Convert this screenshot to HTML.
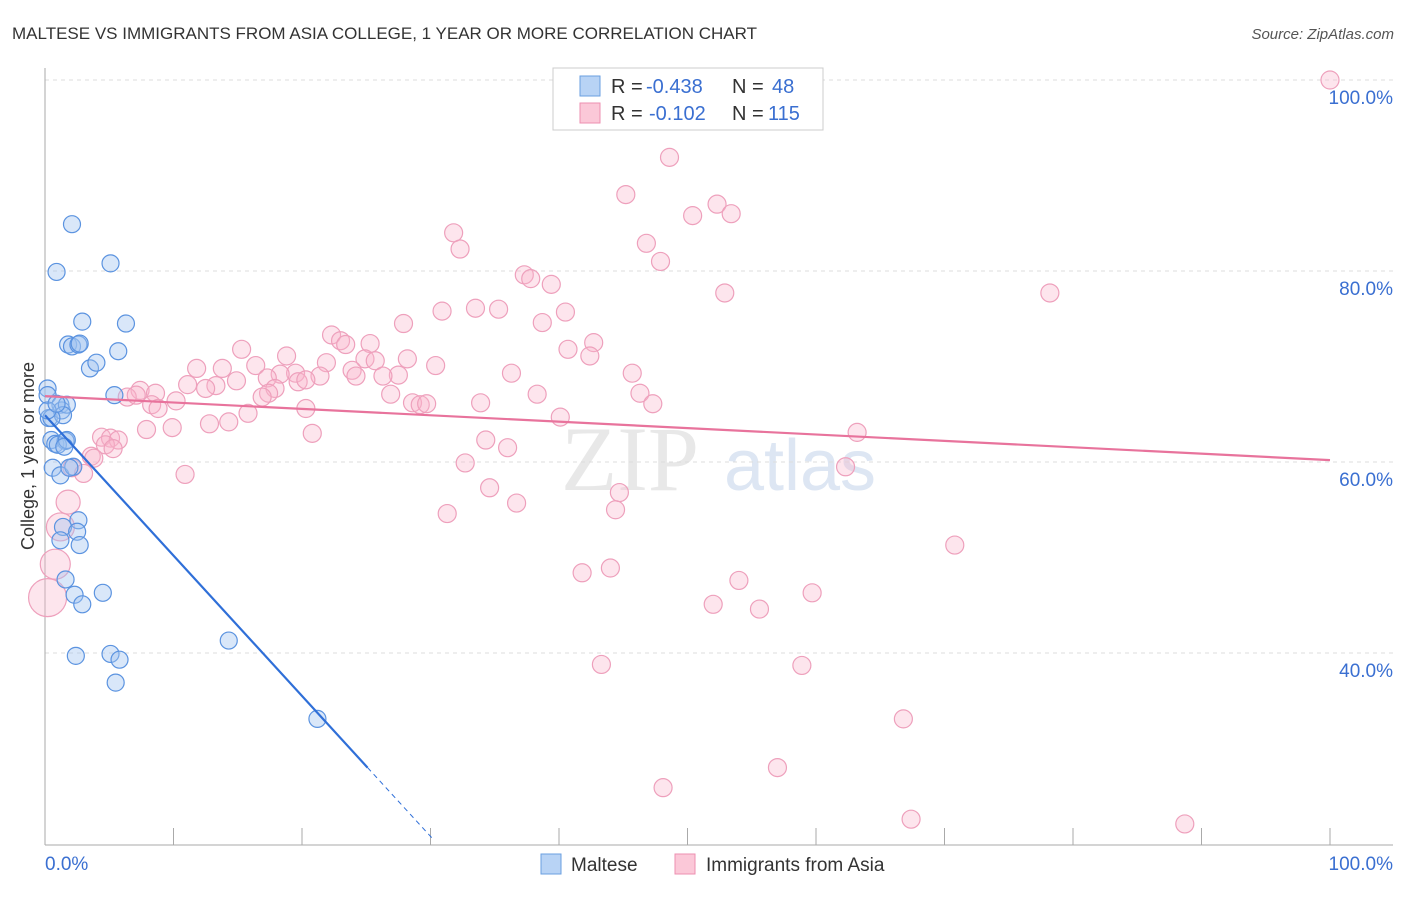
<!DOCTYPE html>
<html><head><meta charset="utf-8"><style>
body{margin:0;background:#fff;font-family:"Liberation Sans",sans-serif}
</style></head><body>
<svg width="1406" height="892" xmlns="http://www.w3.org/2000/svg" id="chart" style="font-family:'Liberation Sans',sans-serif">
<text x="12" y="39" font-size="17" fill="#333">MALTESE VS IMMIGRANTS FROM ASIA COLLEGE, 1 YEAR OR MORE CORRELATION CHART</text>
<text x="1394" y="39" font-size="15" fill="#555" text-anchor="end" font-style="italic">Source: ZipAtlas.com</text>
<g><text x="630" y="490" font-size="92" fill="#e8e8e8" text-anchor="middle" font-family="Liberation Serif">ZIP</text><text x="800" y="490" font-size="72" fill="#dde6f3" text-anchor="middle">atlas</text></g>
<g id="grid"></g><g id="pts"></g><g id="lines"></g>
<text transform="translate(34,456) rotate(-90)" font-size="18" fill="#333" text-anchor="middle">College, 1 year or more</text>
<g>
<rect x="553" y="68" width="270" height="62" fill="#fff" stroke="#ccc"/>
<rect x="580" y="76" width="20" height="20" fill="#b8d3f5" stroke="#6a9fe0"/>
<rect x="580" y="103" width="20" height="20" fill="#fbc8d8" stroke="#ee8fb0"/>
<text x="611" y="93" font-size="20" fill="#333">R =</text>
<text x="646" y="93" font-size="20" fill="#3a6fd1">-0.438</text>
<text x="732" y="93" font-size="20" fill="#333">N =</text>
<text x="772" y="93" font-size="20" fill="#3a6fd1">48</text>
<text x="611" y="120" font-size="20" fill="#333">R =</text>
<text x="649" y="120" font-size="20" fill="#3a6fd1">-0.102</text>
<text x="732" y="120" font-size="20" fill="#333">N =</text>
<text x="768" y="120" font-size="20" fill="#3a6fd1">115</text>
</g>
<g>
<rect x="541" y="854" width="20" height="20" fill="#b8d3f5" stroke="#6a9fe0"/>
<text x="571" y="871" font-size="19" fill="#333">Maltese</text>
<rect x="675" y="854" width="20" height="20" fill="#fbc8d8" stroke="#ee8fb0"/>
<text x="706" y="871" font-size="19" fill="#333">Immigrants from Asia</text>
</g>
</svg>
<script>
const yTicks=[100,80,60,40];
const yTickLabels=["100.0%","80.0%","60.0%","40.0%"];
const xTickLabels=["0.0%","100.0%"];
const blueX=[0.2,0.2,0.3,0.5,0.8,0.6,0.9,1.2,1.3,1.7,1.6,2.1,1.8,2.1,2.6,2.9,2.7,3.5,4.0,5.1,5.7,6.3,5.4,1.4,1.2,2.2,1.4,2.6,2.5,1.2,2.7,1.6,2.3,2.9,4.5,2.4,5.1,5.8,5.5,14.3,21.2,0.5,1.0,1.7,0.2,1.9,0.9,1.5];
const blueY=[67.7,67.0,64.6,62.3,61.9,59.4,79.9,66.0,65.4,66.0,62.2,84.9,72.3,72.1,72.3,74.7,72.4,69.8,70.4,80.8,71.6,74.5,67.0,64.9,58.6,59.5,53.2,53.9,52.7,51.8,51.3,47.7,46.1,45.1,46.3,39.7,39.9,39.3,36.9,41.3,33.1,64.6,61.8,62.3,65.4,59.4,66.1,61.6];
const pinkX=[100,48.6,45.2,52.3,53.4,50.4,31.8,32.3,46.8,47.9,37.3,37.8,39.4,52.9,78.2,30.9,33.5,35.3,40.5,27.9,38.7,22.3,23.0,23.4,25.3,42.7,40.7,15.3,42.4,18.8,28.2,24.9,25.7,11.8,13.8,16.4,21.9,23.9,30.4,19.5,18.3,21.4,36.3,45.7,27.5,26.3,24.2,17.3,19.7,11.1,13.3,12.5,14.9,17.9,20.3,7.4,6.4,7.1,8.6,10.2,8.3,8.8,17.4,16.9,26.9,38.3,46.3,47.3,28.6,29.2,29.7,33.9,20.3,15.8,14.3,12.8,40.1,9.9,7.9,20.8,4.4,5.1,5.7,4.7,5.3,34.3,36.0,3.6,3.8,2.1,3.0,10.9,32.7,63.2,62.3,34.6,44.7,36.7,44.4,31.3,1.8,1.2,70.8,44.0,41.8,54.0,0.8,0.2,52.0,59.7,55.6,43.3,58.9,66.8,57.0,48.1,67.4,88.7];
const pinkY=[100,91.9,88.0,87.0,86.0,85.8,84.0,82.3,82.9,81.0,79.6,79.2,78.6,77.7,77.7,75.8,76.1,76.0,75.7,74.5,74.6,73.3,72.7,72.3,72.4,72.5,71.8,71.8,71.1,71.1,70.8,70.8,70.6,69.8,69.8,70.1,70.4,69.6,70.1,69.3,69.2,69.0,69.3,69.3,69.1,69.0,69.0,68.8,68.4,68.1,68.0,67.7,68.5,67.7,68.6,67.5,66.8,67.0,67.2,66.4,66.0,65.6,67.2,66.8,67.1,67.1,67.2,66.1,66.2,66.0,66.1,66.2,65.6,65.1,64.2,64.0,64.7,63.6,63.4,63.0,62.6,62.5,62.3,61.8,61.4,62.3,61.5,60.6,60.4,59.4,58.8,58.7,59.9,63.1,59.5,57.3,56.8,55.7,55.0,54.6,55.8,53.2,51.3,48.9,48.4,47.6,49.3,45.8,45.1,46.3,44.6,38.8,38.7,33.1,28.0,25.9,22.6,22.1];
const pinkBig={100:12,101:14,106:15,107:19};
const blueTrend=[64.9,-1.47];   // intercept, slope
const pinkTrend=[66.9,-0.067];
const X=v=>45+v*12.85, Y=v=>80+(100-v)*9.55;
const NS="http://www.w3.org/2000/svg";
function mk(t,a,p){const e=document.createElementNS(NS,t);for(const k in a)e.setAttribute(k,a[k]);p.appendChild(e);return e;}
const grid=document.getElementById('grid');
yTicks.forEach((t,i)=>{
 const l=mk('line',{x1:45,x2:1393,y1:Y(t),y2:Y(t),stroke:'#ddd','stroke-dasharray':'4,4'},grid);
 
 
 const tx=mk('text',{x:1393,y:Y(t)+24,'font-size':19,fill:'#3a6fd1','text-anchor':'end'},grid);tx.textContent=yTickLabels[i];
 
 
});
const ax=mk('line',{x1:45,x2:45,y1:68,y2:845,stroke:'#aaa'},grid);


const bx=mk('line',{x1:45,x2:1393,y1:845,y2:845,stroke:'#aaa'},grid);


for(let i=1;i<=10;i++){const t=mk('line',{x1:X(i*10),x2:X(i*10),y1:828,y2:845,stroke:'#aaa'},grid);
 
 }
[[0,'start',45],[1,'end',1393]].forEach(([i,a,x])=>{const t=mk('text',{x:x,y:870,'font-size':19,fill:'#3a6fd1','text-anchor':a},grid);t.textContent=xTickLabels[i];
 
 });
const pts=document.getElementById('pts');
pinkX.forEach((v,i)=>{const c=mk('circle',{cx:X(v),cy:Y(pinkY[i]),r:pinkBig[i]||9,fill:'rgba(248,180,204,0.35)',stroke:'#eea0bc','stroke-width':1.2},pts);
 
 });
blueX.forEach((v,i)=>{const c=mk('circle',{cx:X(v),cy:Y(blueY[i]),r:8.5,fill:'rgba(160,196,240,0.4)',stroke:'#5b93e0','stroke-width':1.2},pts);
 
 });
const lines=document.getElementById('lines');
const by=x=>blueTrend[0]+blueTrend[1]*x;
const b1=mk('line',{x1:X(0),y1:Y(by(0)),x2:X(25.1),y2:Y(by(25.1)),stroke:'#2f6fd8','stroke-width':2.2},lines);


const b2=mk('line',{x1:X(25.1),y1:Y(by(25.1)),x2:X(30.2),y2:Y(by(30.2)),stroke:'#2f6fd8','stroke-width':1,'stroke-dasharray':'5,4'},lines);


const py=x=>pinkTrend[0]+pinkTrend[1]*x;
const p1=mk('line',{x1:X(0),y1:Y(py(0)),x2:X(100),y2:Y(py(100)),stroke:'#e8739c','stroke-width':2.2},lines);


</script>
</body></html>
